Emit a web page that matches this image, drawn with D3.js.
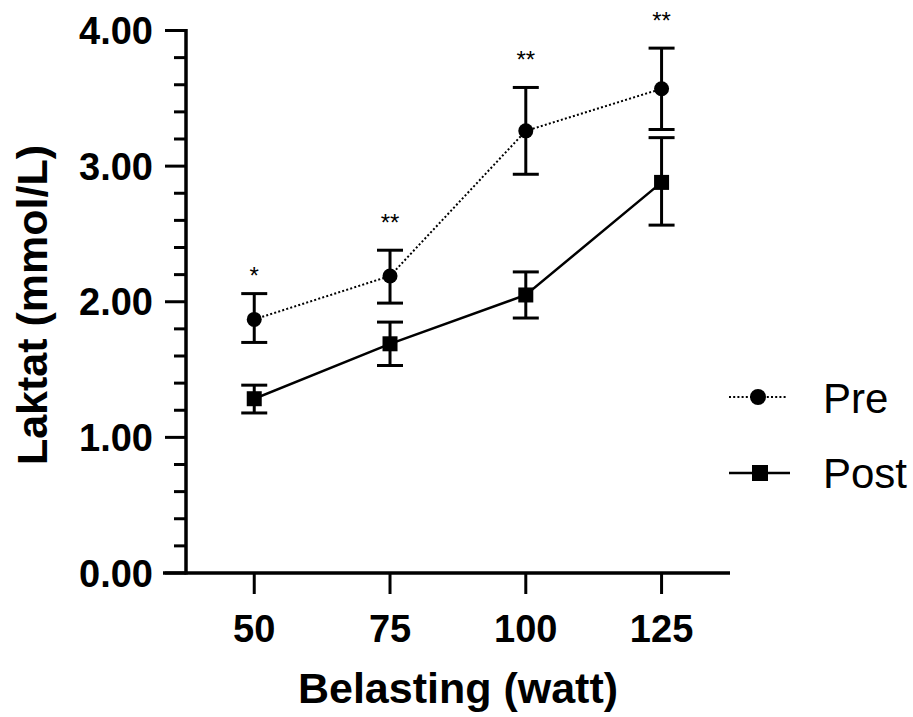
<!DOCTYPE html>
<html>
<head>
<meta charset="utf-8">
<script src="https://cdn.jsdelivr.net/npm/d3@7"></script>
<style>
  html, body { margin: 0; padding: 0; background: #fff; }
  svg { display: block; font-family: "Liberation Sans", Arial, Helvetica, sans-serif; }
</style>
</head>
<body>
<svg id="chart" width="913" height="717"></svg>
<script>
// ---- data ----
const loads = [50, 75, 100, 125];
const preMean = [1.87, 2.19, 3.26, 3.57];
const preLow  = [1.70, 1.99, 2.94, 3.27];
const preHigh = [2.06, 2.38, 3.58, 3.87];
const postMean = [1.285, 1.69, 2.05, 2.88];
const postLow  = [1.18, 1.53, 1.88, 2.565];
const postHigh = [1.385, 1.85, 2.22, 3.21];
const sigLabels = ["*", "**", "**", "**"];
const yTicks = [0, 1, 2, 3, 4];
const yTickLabels = ["0.00", "1.00", "2.00", "3.00", "4.00"];
const seriesNames = ["Pre", "Post"];
const xTitle = "Belasting (watt)";
const yTitle = "Laktat (mmol/L)";

// ---- layout ----
const svg = d3.select("#chart");
const x = d3.scaleLinear().domain([33.2, 137.6]).range([163, 730]);
const y = d3.scaleLinear().domain([0, 4]).range([573, 30.5]);
const axisX = 186;

// x axis
const gx = svg.append("g").attr("transform", `translate(0,${y(0)})`);
gx.append("line").attr("x1", x.range()[0]).attr("x2", x.range()[1])
  .attr("y1", 0).attr("y2", 0).attr("stroke", "#000").attr("stroke-width", 3.5);
const xt = gx.selectAll("g.xt").data(loads).join("g")
  .attr("transform", d => `translate(${x(d)},0)`);
xt.append("line").attr("y1", 0).attr("y2", 21).attr("stroke", "#000").attr("stroke-width", 3);
xt.append("text").attr("y", 69).attr("text-anchor", "middle")
  .attr("font-size", 38).attr("font-weight", "bold").text(d => d);

// y axis
const gy = svg.append("g").attr("transform", `translate(${axisX},0)`);
gy.append("line").attr("x1", 0).attr("x2", 0).attr("y1", y(0) + 1.5).attr("y2", y(4) - 1.5)
  .attr("stroke", "#000").attr("stroke-width", 3.5);
const minor = d3.range(0, 4.0001, 0.2).filter(v => Math.abs(v - Math.round(v)) > 1e-6);
gy.selectAll("line.minor").data(minor).join("line").attr("class", "minor")
  .attr("x1", -12).attr("x2", 0).attr("y1", d => y(d)).attr("y2", d => y(d))
  .attr("stroke", "#000").attr("stroke-width", 3);
gy.selectAll("line.major").data(yTicks).join("line").attr("class", "major")
  .attr("x1", -21).attr("x2", 0).attr("y1", d => y(d)).attr("y2", d => y(d))
  .attr("stroke", "#000").attr("stroke-width", 3);
gy.selectAll("text.yl").data(yTicks).join("text").attr("class", "yl")
  .attr("x", -33).attr("y", d => y(d) + 13.5).attr("text-anchor", "end")
  .attr("font-size", 38).attr("font-weight", "bold").text((d, i) => yTickLabels[i]);

// titles
svg.append("text").attr("x", 458).attr("y", 703).attr("text-anchor", "middle")
  .attr("font-size", 43).attr("font-weight", "bold").text(xTitle);
svg.append("text").attr("transform", "translate(47,305) rotate(-90)")
  .attr("text-anchor", "middle").attr("font-size", 43).attr("font-weight", "bold").text(yTitle);

// lines
const line = d3.line().x(d => x(d[0])).y(d => y(d[1]));
svg.append("path").datum(loads.map((l, i) => [l, preMean[i]])).attr("d", line)
  .attr("fill", "none").attr("stroke", "#000").attr("stroke-width", 2).attr("stroke-dasharray", "2,2.2");
svg.append("path").datum(loads.map((l, i) => [l, postMean[i]])).attr("d", line)
  .attr("fill", "none").attr("stroke", "#000").attr("stroke-width", 2.5);

// error bars
function errBars(lo, hi) {
  const g = svg.append("g").attr("stroke", "#000").attr("stroke-width", 3);
  loads.forEach((l, i) => {
    g.append("line").attr("x1", x(l)).attr("x2", x(l)).attr("y1", y(lo[i])).attr("y2", y(hi[i]));
    g.append("line").attr("x1", x(l) - 13).attr("x2", x(l) + 13).attr("y1", y(lo[i])).attr("y2", y(lo[i]));
    g.append("line").attr("x1", x(l) - 13).attr("x2", x(l) + 13).attr("y1", y(hi[i])).attr("y2", y(hi[i]));
  });
}
errBars(preLow, preHigh);
errBars(postLow, postHigh);

// markers
svg.selectAll("circle.pre").data(loads).join("circle").attr("class", "pre")
  .attr("cx", d => x(d)).attr("cy", (d, i) => y(preMean[i])).attr("r", 7.5).attr("fill", "#000");
svg.selectAll("rect.post").data(loads).join("rect").attr("class", "post")
  .attr("x", d => x(d) - 7.5).attr("y", (d, i) => y(postMean[i]) - 7.5)
  .attr("width", 15).attr("height", 15).attr("fill", "#000");

// significance
svg.selectAll("text.sig").data(loads).join("text").attr("class", "sig")
  .attr("x", d => x(d)).attr("text-anchor", "middle").attr("font-size", 24)
  .attr("y", (d, i) => y(preHigh[i]) - (sigLabels[i].length === 1 ? 23 : 33) + 13.7)
  .text((d, i) => sigLabels[i]);

// legend
const lg = svg.append("g");
lg.append("line").attr("x1", 729).attr("x2", 787).attr("y1", 397).attr("y2", 397)
  .attr("stroke", "#000").attr("stroke-width", 2).attr("stroke-dasharray", "2,2.2");
lg.append("circle").attr("cx", 758).attr("cy", 397).attr("r", 8).attr("fill", "#000");
lg.append("text").attr("x", 823).attr("y", 413).attr("font-size", 42).text(seriesNames[0]);
lg.append("line").attr("x1", 729).attr("x2", 790).attr("y1", 473).attr("y2", 473)
  .attr("stroke", "#000").attr("stroke-width", 2.5);
lg.append("rect").attr("x", 752).attr("y", 465).attr("width", 16).attr("height", 16).attr("fill", "#000");
lg.append("text").attr("x", 823).attr("y", 488).attr("font-size", 42).text(seriesNames[1]);
</script>
</body>
</html>
